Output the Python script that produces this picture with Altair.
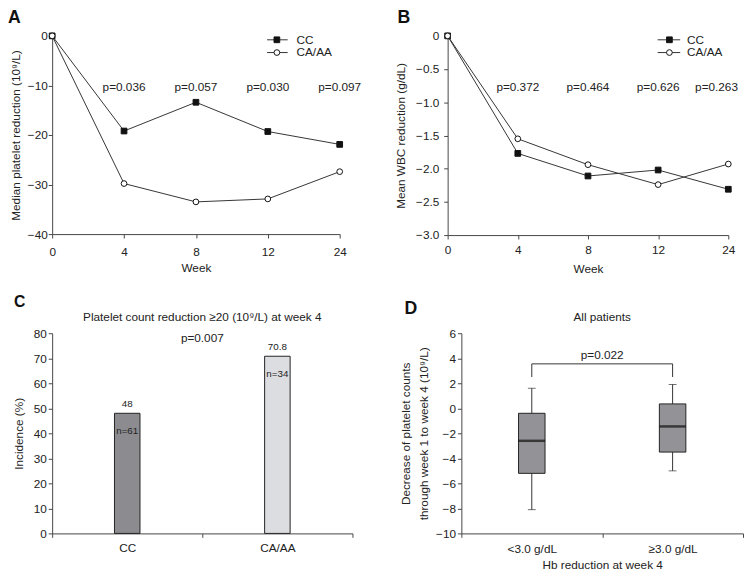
import altair as alt
import pandas as pd

# ---------------- data ----------------
weeks = ["0", "4", "8", "12", "24"]
series = ["CC", "CA/AA"]
plt_cc = [0, -19.2, -13.4, -19.3, -21.9]
plt_ca = [0, -29.8, -33.5, -32.9, -27.4]
plt_p_weeks = ["4", "8", "12", "24"]
plt_p = ["p=0.036", "p=0.057", "p=0.030", "p=0.097"]
wbc_cc = [0, -1.77, -2.11, -2.02, -2.31]
wbc_ca = [0, -1.55, -1.94, -2.24, -1.93]
wbc_p = ["p=0.372", "p=0.464", "p=0.626", "p=0.263"]

genotypes = ["CC", "CA/AA"]
incidence = [48, 70.8]
incidence_labels = ["48", "70.8"]
n_labels = ["n=61", "n=34"]

hb_groups = ["<3.0 g/dL", "≥3.0 g/dL"]
whisk_lo = [-8.1, -5.0]
q1 = [-5.2, -3.5]
median = [-2.6, -1.45]
q3 = [-0.4, 0.35]
whisk_hi = [1.6, 1.9]
bracket_y = 3.55
bracket_foot = 2.5

FONT = "Liberation Sans"
TXT = "#222222"
LINE = "#333333"
one = pd.DataFrame({"k": [0]})


def letter(ch, x, y, size=18):
    return alt.Chart(one).mark_text(
        text=ch, align="left", baseline="alphabetic", font=FONT,
        fontSize=size, fontWeight="bold", color="#111"
    ).encode(x=alt.value(x), y=alt.value(y))


def line_panel(cc, ca, pvals, ch, ytitle, ydomain, yvals, width, height,
               labelexpr, lab_pad, title_pad, leg, xlab_pad, xtitle_pad, p_dx_last=0):
    rows = []
    for s, vals in (("CC", cc), ("CA/AA", ca)):
        for w, v in zip(weeks, vals):
            rows.append({"week": w, "series": s, "value": v})
    df = pd.DataFrame(rows)
    X = alt.X("week:O", sort=weeks,
              scale=alt.Scale(type="point", padding=0),
              axis=alt.Axis(title="Week", labelAngle=0, labelPadding=xlab_pad,
                            titlePadding=xtitle_pad, tickSize=4))
    Y = alt.Y("value:Q", scale=alt.Scale(domain=ydomain, nice=False, zero=False),
              axis=alt.Axis(title=ytitle, values=yvals, labelExpr=labelexpr,
                            labelPadding=lab_pad, titlePadding=title_pad, tickSize=4))
    base = alt.Chart(df)
    lines = base.mark_line(color=LINE, strokeWidth=1).encode(x=X, y=Y, detail="series:N")
    pts = base.mark_point(filled=True, size=34, stroke="#111", strokeWidth=1, opacity=1).encode(
        x=X, y=Y,
        shape=alt.Shape("series:N", scale=alt.Scale(domain=series, range=["square", "circle"]), legend=None),
        fill=alt.Fill("series:N", scale=alt.Scale(domain=series, range=["#111111", "#ffffff"]), legend=None),
        order=alt.Order("series:N", sort="descending"),
    )
    pdf = pd.DataFrame({"week": plt_p_weeks, "label": pvals})
    ptxt_main = alt.Chart(pdf.iloc[:3]).mark_text(font=FONT, fontSize=12, color=TXT, baseline="middle").encode(
        x=X, y=alt.value(52), text="label:N")
    ptxt_last = alt.Chart(pdf.iloc[3:]).mark_text(font=FONT, fontSize=12, color=TXT, baseline="middle",
                                                  dx=p_dx_last).encode(
        x=X, y=alt.value(52), text="label:N")
    lx1, lx2, mx, tx = leg
    legend_layers = []
    for lab, yy, shp, fl in (("CC", 4, "square", "#111111"), ("CA/AA", 17, "circle", "#ffffff")):
        legend_layers.append(alt.Chart(one).mark_rule(color=LINE, strokeWidth=1).encode(
            x=alt.value(lx1), x2=alt.value(lx2), y=alt.value(yy)))
        legend_layers.append(alt.Chart(one).mark_point(shape=shp, filled=True, fill=fl, stroke="#111",
                                                       strokeWidth=1, size=34, opacity=1).encode(
            x=alt.value(mx), y=alt.value(yy)))
        legend_layers.append(alt.Chart(one).mark_text(text=lab, align="left", baseline="middle", font=FONT,
                                                      fontSize=12, color=TXT).encode(
            x=alt.value(tx), y=alt.value(yy)))
    return alt.layer(lines, pts, ptxt_main, ptxt_last, *legend_layers, letter(ch, -45 if ch == "A" else -51, -13)
                     ).properties(width=width, height=height)


panel_a = line_panel(plt_cc, plt_ca, plt_p, "A", "Median platelet reduction (10⁹/L)",
                     [-40, 0], [-40, -30, -20, -10, 0], 293, 202,
                     "format(datum.value, 'd')", 1, 5, (219, 240, 229, 249), 9, 5)
panel_b = line_panel(wbc_cc, wbc_ca, wbc_p, "B", "Mean WBC reduction (g/dL)",
                     [-3, 0], [-3, -2.5, -2, -1.5, -1, -0.5, 0], 286, 203,
                     "datum.value == 0 ? '0' : format(datum.value, '.1f')", 5, 8,
                     (214, 237, 226, 244), 6, 8, p_dx_last=-12)

# ---------------- panel C ----------------
dfc = pd.DataFrame({"genotype": genotypes, "incidence": incidence,
                    "vlabel": incidence_labels, "nlabel": n_labels})
XC = alt.X("genotype:N", sort=genotypes, scale=alt.Scale(paddingInner=0, paddingOuter=0),
           axis=alt.Axis(title=None, labelAngle=0, tickBand="extent", labelPadding=5, tickSize=4))
YC = alt.Y("incidence:Q", scale=alt.Scale(domain=[0, 80], nice=False),
           axis=alt.Axis(title="Incidence (%)", values=list(range(0, 81, 10)), labelPadding=2,
                         titlePadding=8, tickSize=4))
basec = alt.Chart(dfc)
bars = basec.mark_bar(size=26, stroke="#222", strokeWidth=1).encode(
    x=XC, y=YC,
    fill=alt.Fill("genotype:N", scale=alt.Scale(domain=genotypes, range=["#8c8c90", "#dcdde0"]), legend=None))
vlab = basec.mark_text(font=FONT, fontSize=10, color=TXT, baseline="bottom", dy=-4).encode(
    x=XC, y=YC, text="vlabel:N")
nlab = basec.mark_text(font=FONT, fontSize=10, color=TXT, baseline="middle", dy=18).encode(
    x=XC, y=YC, text="nlabel:N")
c_title = alt.Chart(one).mark_text(text="Platelet count reduction ≥20 (10⁹/L) at week 4", font=FONT,
                                   fontSize=12, color=TXT, baseline="middle").encode(
    x=alt.value(153), y=alt.value(-16))
c_p = alt.Chart(one).mark_text(text="p=0.007", font=FONT, fontSize=12, color=TXT, baseline="middle").encode(
    x=alt.value(153), y=alt.value(5))
panel_c = alt.layer(bars, vlab, nlab, c_title, c_p, letter("C", -39, -27, 16)).properties(width=306, height=204)

# ---------------- panel D ----------------
dfd = pd.DataFrame({"group": hb_groups, "lo": whisk_lo, "q1": q1, "med": median, "q3": q3, "hi": whisk_hi})
XD = alt.X("group:N", sort=hb_groups, scale=alt.Scale(paddingInner=0, paddingOuter=0),
           axis=alt.Axis(title="Hb reduction at week 4", labelAngle=0, tickBand="extent",
                         labelPadding=6, titlePadding=6, tickSize=4))
YAX = alt.Axis(title=["Decrease of platelet counts", "through week 1 to week 4 (10⁹/L)"],
               values=list(range(-10, 7, 2)), labelPadding=2, titlePadding=5, tickSize=4,
               titleLineHeight=18)
YSC = alt.Scale(domain=[-10, 6], nice=False)
based = alt.Chart(dfd)
whisk = based.mark_rule(color=LINE, strokeWidth=1).encode(
    x=XD, y=alt.Y("lo:Q", scale=YSC, axis=YAX), y2="hi:Q")
caps_hi = based.mark_tick(color=LINE, size=8, thickness=1).encode(x=XD, y=alt.Y("hi:Q", scale=YSC, axis=YAX))
caps_lo = based.mark_tick(color=LINE, size=8, thickness=1).encode(x=XD, y=alt.Y("lo:Q", scale=YSC, axis=YAX))
boxes = based.mark_bar(size=27, fill="#939397", stroke="#222", strokeWidth=1).encode(
    x=XD, y=alt.Y("q1:Q", scale=YSC, axis=YAX), y2="q3:Q")
meds = based.mark_tick(color="#111", size=27, thickness=2.5).encode(
    x=XD, y=alt.Y("med:Q", scale=YSC, axis=YAX))
dfb = pd.DataFrame({"group": hb_groups, "g2": hb_groups[::-1], "foot": [bracket_foot] * 2,
                    "top": [bracket_y] * 2})
bracket_h = alt.Chart(dfb.iloc[:1]).mark_rule(color=LINE, strokeWidth=1).encode(
    x=alt.X("group:N", sort=hb_groups, bandPosition=0.5,
            scale=alt.Scale(paddingInner=0, paddingOuter=0),
            axis=alt.Axis(title="Hb reduction at week 4", labelAngle=0, tickBand="extent",
                          labelPadding=6, titlePadding=6, tickSize=4)),
    x2=alt.X2("g2:N", bandPosition=0.5),
    y=alt.Y("top:Q", scale=YSC, axis=YAX))
bracket_v = alt.Chart(dfb).mark_rule(color=LINE, strokeWidth=1).encode(
    x=XD, y=alt.Y("foot:Q", scale=YSC, axis=YAX), y2="top:Q")
d_p = alt.Chart(one).mark_text(text="p=0.022", font=FONT, fontSize=12, color=TXT, baseline="middle").encode(
    x=alt.value(143.5), y=alt.value(22))
d_title = alt.Chart(one).mark_text(text="All patients", font=FONT, fontSize=12, color=TXT,
                                   baseline="middle").encode(x=alt.value(143.5), y=alt.value(-16))
panel_d = alt.layer(whisk, caps_hi, caps_lo, boxes, meds, bracket_h, bracket_v, d_p, d_title,
                    letter("D", -58, -20)).properties(width=287, height=204)

top = alt.hconcat(panel_a, panel_b, spacing=34)
bottom = alt.hconcat(panel_c, panel_d, spacing=47)
chart = alt.vconcat(top, bottom, spacing=20).resolve_scale(
    fill="independent", shape="independent"
).properties(padding={"left": 0, "top": -4, "right": 0, "bottom": 0}).configure_view(
    stroke=None
).configure_axis(
    labelFont=FONT, titleFont=FONT, labelFontSize=12, titleFontSize=12, titleFontWeight="normal",
    labelColor=TXT, titleColor=TXT, domainColor="#444", tickColor="#444", grid=False
)

chart.save("out.html", embed_options={"renderer": "svg", "actions": False})
